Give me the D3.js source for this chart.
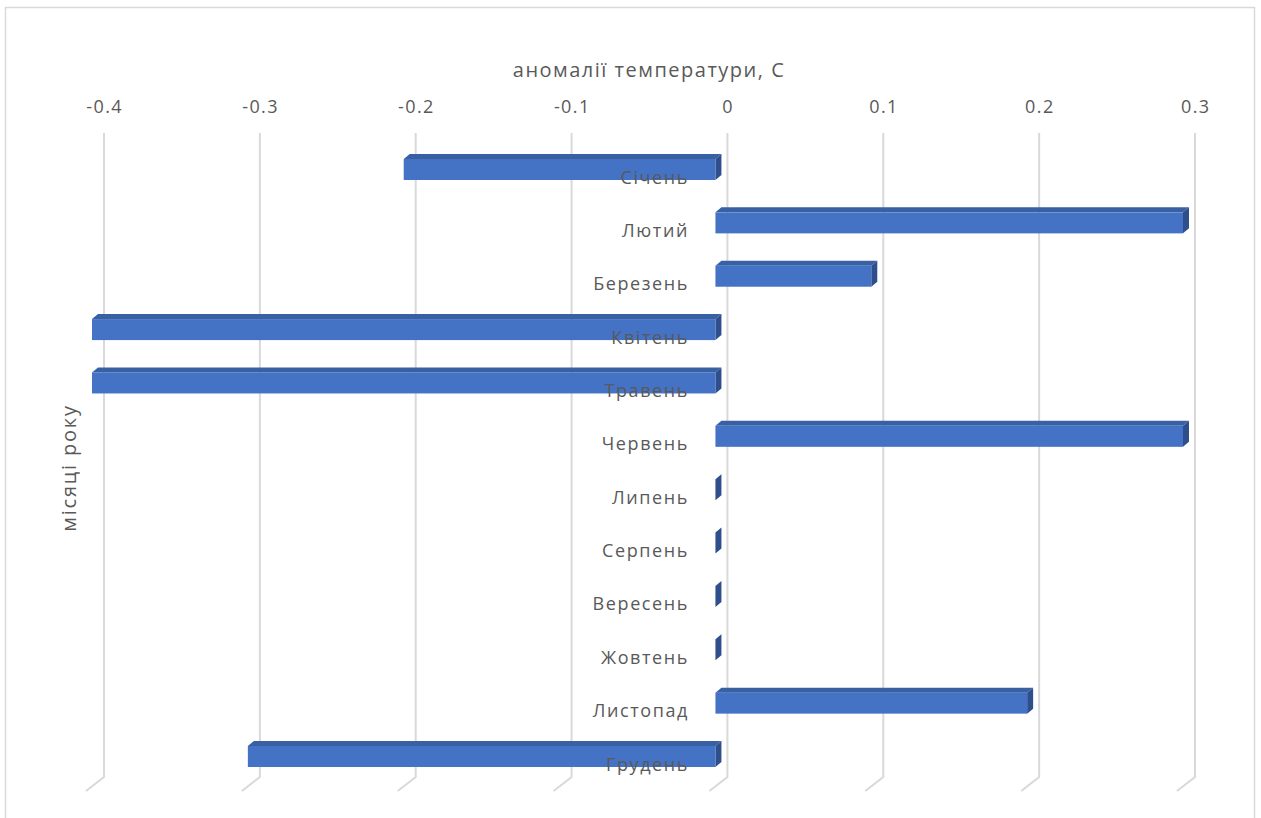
<!DOCTYPE html>
<html><head><meta charset="utf-8">
<script src="https://cdn.jsdelivr.net/npm/d3@7"></script>
<style>body{margin:0;background:#fff}svg{display:block}text{font-family:"Open Sans",sans-serif}</style>
</head><body>
<script>
const months = ["Січень","Лютий","Березень","Квітень","Травень","Червень","Липень","Серпень","Вересень","Жовтень","Листопад","Грудень"];
const anomalies = [-0.2, 0.3, 0.1, -0.4, -0.4, 0.3, 0, 0, 0, 0, 0.2, -0.3];
const xTicks = [-0.4, -0.3, -0.2, -0.1, 0, 0.1, 0.2, 0.3];
const xTickLabels = ["-0.4", "-0.3", "-0.2", "-0.1", "0", "0.1", "0.2", "0.3"];
const xTitle = "аномалії температури, С";
const yTitle = "місяці року";

const W = 1261, H = 818;
const svg = d3.select("body").append("svg").attr("width", W).attr("height", H);

svg.append("rect").attr("x", 5.5).attr("y", 7.5).attr("width", 1249).attr("height", 830)
  .attr("fill", "#fff").attr("stroke", "#d9d9d9").attr("stroke-width", 1.5);

// back wall scale
const xBack = d3.scaleLinear().domain([-0.4, 0.3]).range([104, 1195]);
const shift = 12; // front face offset from back wall
const xBar = v => xBack(v) - shift;
const y = d3.scalePoint().domain(months).range([169.5, 756.5]);
const barH = 21, dx = 6, dy = -5;

const gTop = 133, gBot = 777;
const grid = svg.append("g").attr("stroke", "#d9d9d9").attr("stroke-width", 2).attr("fill", "none");
xTicks.forEach(t => {
  const x = xBack(t);
  grid.append("path").attr("d", `M${x},${gTop}V${gBot}L${x-18},${gBot+14}`);
});

svg.append("g").selectAll("text").data(xTicks).join("text")
  .attr("x", d => xBack(d) + 0.7).attr("y", 113).attr("text-anchor", "middle")
  .attr("font-size", 18).attr("letter-spacing", 1.4).attr("fill", "#595959")
  .text((d, i) => xTickLabels[i]);

svg.append("text").attr("x", 649).attr("y", 77).attr("text-anchor", "middle")
  .attr("font-size", 20).attr("letter-spacing", 1.5).attr("fill", "#595959").text(xTitle);

svg.append("text").attr("transform", "translate(76,468) rotate(-90)").attr("text-anchor", "middle")
  .attr("font-size", 20).attr("letter-spacing", 1.8).attr("fill", "#595959").text(yTitle);

const bars = svg.append("g");
months.forEach((m, i) => {
  const v = anomalies[i];
  const x0 = Math.min(xBar(0), xBar(v)), x1 = Math.max(xBar(0), xBar(v));
  const t = y(m) - barH / 2, b = t + barH;
  const g = bars.append("g");
  g.append("path").attr("d", `M${x0},${t}L${x0+dx},${t+dy}L${x1+dx},${t+dy}L${x1},${t}Z`).attr("fill", "#3a60a4");
  g.append("path").attr("d", `M${x1},${t}L${x1+dx},${t+dy}L${x1+dx},${b+dy}L${x1},${b}Z`).attr("fill", "#2f4f8c");
  if (x1 > x0) g.append("rect").attr("x", x0).attr("y", t).attr("width", x1 - x0).attr("height", barH).attr("fill", "#4472c4");
});

svg.append("g").selectAll("text").data(months).join("text")
  .attr("x", 689).attr("y", d => y(d) + 14).attr("text-anchor", "end")
  .attr("font-size", 18).attr("letter-spacing", 1.6).attr("fill", "#595959").text(d => d);
</script>
</body></html>
